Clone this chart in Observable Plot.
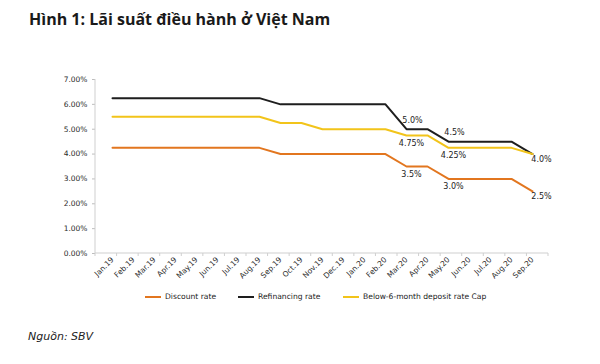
<!DOCTYPE html>
<html>
<head>
<meta charset="utf-8">
<script src="https://cdn.jsdelivr.net/npm/d3@7"></script>
<script src="https://cdn.jsdelivr.net/npm/@observablehq/plot@0.6"></script>
<style>
  html, body { margin: 0; padding: 0; background: #fff; }
  #wrap { position: relative; width: 600px; height: 364px; overflow: hidden; }
  #chart { position: absolute; left: 0; top: 0; }
  #title { position: absolute; left: 29px; top: 8px; font-family: "Open Sans", sans-serif; font-weight: 700; font-size: 16px; color: #1a1a1a; white-space: nowrap; }
  #legend { position: absolute; left: 145px; top: 292px; font-family: "DejaVu Sans", sans-serif; font-size: 7.6px; color: #222; white-space: nowrap; }
  #legend .item { position: absolute; top: 0; display: flex; align-items: center; }
  #legend .sw { display: inline-block; width: 16px; height: 2px; margin-right: 4px; }
  #source { position: absolute; left: 28px; top: 330px; font-family: "DejaVu Sans", sans-serif; font-style: italic; font-size: 11px; color: #222; }
</style>
</head>
<body>
<div id="wrap">
  <div id="chart"></div>
  <div id="title">Hình 1: Lãi suất điều hành ở Việt Nam</div>
  <div id="legend"></div>
  <div id="source">Nguồn: SBV</div>
</div>
<script>
const months = ["Jan.19","Feb.19","Mar.19","Apr.19","May.19","Jun.19","Jul.19","Aug.19","Sep.19","Oct.19","Nov.19","Dec.19","Jan.20","Feb.20","Mar.20","Apr.20","May.20","Jun.20","Jul.20","Aug.20","Sep.20"];
const discountRate    = [4.25,4.25,4.25,4.25,4.25,4.25,4.25,4.25,4.0,4.0,4.0,4.0,4.0,4.0,3.5,3.5,3.0,3.0,3.0,3.0,2.5];
const refinancingRate = [6.25,6.25,6.25,6.25,6.25,6.25,6.25,6.25,6.0,6.0,6.0,6.0,6.0,6.0,5.0,5.0,4.5,4.5,4.5,4.5,4.0];
const depositCap      = [5.5,5.5,5.5,5.5,5.5,5.5,5.5,5.5,5.25,5.25,5.0,5.0,5.0,5.0,4.75,4.75,4.25,4.25,4.25,4.25,4.0];
const seriesNames = ["Discount rate","Refinancing rate","Below-6-month deposit rate Cap"];
const seriesColors = ["#E2761F","#1e1e1e","#F2C41A"];
const yTicks = [0,1,2,3,4,5,6,7];

const labelSeries = ["Refinancing rate","Refinancing rate","Below-6-month deposit rate Cap","Below-6-month deposit rate Cap","Discount rate","Discount rate","Below-6-month deposit rate Cap","Discount rate"];
const labelMonths = ["Mar.20","May.20","Mar.20","May.20","Mar.20","May.20","Sep.20","Sep.20"];
const labelTexts  = ["5.0%","4.5%","4.75%","4.25%","3.5%","3.0%","4.0%","2.5%"];

const seriesValues = {"Discount rate": discountRate, "Refinancing rate": refinancingRate, "Below-6-month deposit rate Cap": depositCap};
const rows = [];
seriesNames.forEach(s => months.forEach((m, i) => rows.push({series: s, month: m, value: seriesValues[s][i]})));
const labels = labelTexts.map((t, i) => ({series: labelSeries[i], month: labelMonths[i], text: t, value: seriesValues[labelSeries[i]][months.indexOf(labelMonths[i])]}));
const last = months[months.length - 1];
const labelsAbove = labels.filter(d => d.series === "Refinancing rate" && d.month !== last);
const labelsBelow = labels.filter(d => d.series !== "Refinancing rate" && d.month !== last);
const labelsEnd = labels.filter(d => d.month === last);

function frameLines(index, scales, values, dims) {
  const g = d3.create("svg:g");
  const x0 = dims.marginLeft, x1 = dims.width - dims.marginRight;
  const y0 = dims.height - dims.marginBottom, yT = dims.marginTop;
  g.append("line").attr("x1", x0).attr("x2", x0).attr("y1", yT).attr("y2", y0).attr("stroke", "#cfcfcf");
  g.append("line").attr("x1", x0).attr("x2", x1).attr("y1", y0).attr("y2", y0).attr("stroke", "#cfcfcf");
  const step = (x1 - x0) / months.length;
  for (let i = 0; i <= months.length; i++) {
    const x = x0 + i * step;
    g.append("line").attr("x1", x).attr("x2", x).attr("y1", y0).attr("y2", y0 + 3).attr("stroke", "#cfcfcf");
  }
  return g.node();
}

const plot = Plot.plot({
  width: 600,
  height: 364,
  marginLeft: 95,
  marginRight: 52,
  marginTop: 79,
  marginBottom: 111,
  style: {fontFamily: "DejaVu Sans, sans-serif", fontSize: "7.5px", color: "#2a2a2a", background: "transparent"},
  x: {type: "point", domain: months, padding: 0.5, label: null, tickSize: 0, tickRotate: -45, tickPadding: 5},
  y: {domain: [0, 7], ticks: yTicks, tickFormat: d => d.toFixed(2) + "%", label: null, tickSize: 3, tickPadding: 5},
  color: {domain: seriesNames, range: seriesColors},
  marks: [
    frameLines,
    Plot.line(rows, {x: "month", y: "value", z: "series", stroke: "series", strokeWidth: 2}),
    Plot.text(labelsAbove, {x: "month", y: "value", text: "text", dx: 6, dy: -9, fill: "#222", fontSize: 8}),
    Plot.text(labelsBelow, {x: "month", y: "value", text: "text", dx: 5, dy: 8, fill: "#222", fontSize: 8}),
    Plot.text(labelsEnd, {x: "month", y: "value", text: "text", dx: 9, dy: 5, fill: "#222", fontSize: 8})
  ]
});
document.getElementById("chart").appendChild(plot);
d3.select(plot).selectAll("[aria-label^='y-axis'] path, [aria-label^='y-axis'] line").attr("stroke", "#bdbdbd");

const legendX = [0, 93, 198];
const legend = document.getElementById("legend");
seriesNames.forEach((s, i) => {
  const item = document.createElement("div");
  item.className = "item";
  item.style.left = legendX[i] + "px";
  const sw = document.createElement("span");
  sw.className = "sw";
  sw.style.background = seriesColors[i];
  item.appendChild(sw);
  item.appendChild(document.createTextNode(s));
  legend.appendChild(item);
});
</script>
</body>
</html>
